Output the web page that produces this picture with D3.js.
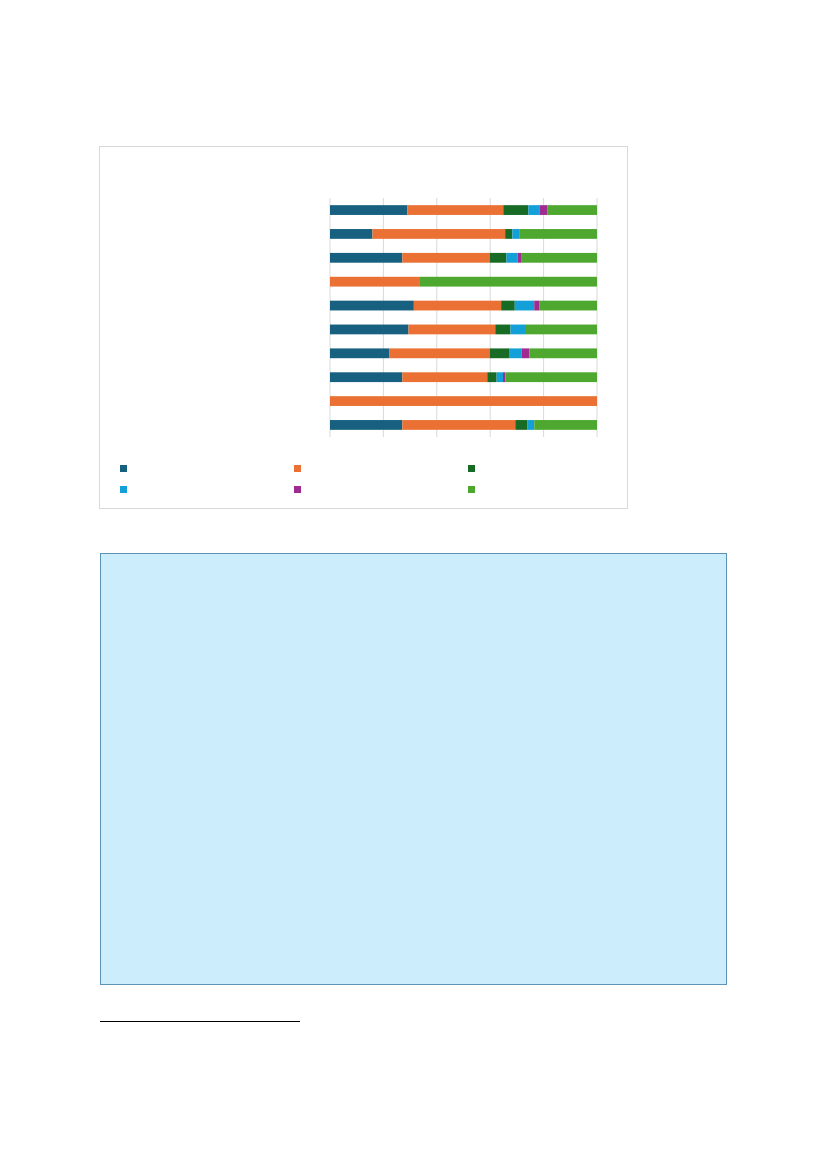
<!DOCTYPE html>
<html><head><meta charset="utf-8">
<script src="https://cdn.jsdelivr.net/npm/d3@7"></script>
<style>body{margin:0;background:#fff}svg{display:block}</style>
</head><body>
<svg id="c" width="827" height="1169"></svg>
<script>
// Data (percent shares per row; the reference shows no text labels)
const categories = ["r1","r2","r3","r4","r5","r6","r7","r8","r9","r10"];
const seriesNames = ["s1","s2","s3","s4","s5","s6"];
const seriesColors = ["#17607f","#ea7133","#186b25","#139fd7","#a02a8f","#4ea82f"];
const s1 = [29.0,15.9,27.1,0,31.4,29.4,22.3,27.1,0,27.1];
const s2 = [35.9,49.7,32.7,33.4,32.7,32.5,37.5,31.8,100,42.3];
const s3 = [9.4,2.7,6.3,0,5.1,5.7,7.5,3.5,0,4.6];
const s4 = [4.3,2.8,4.2,0,7.3,5.8,4.4,2.4,0,2.5];
const s5 = [2.9,0,1.5,0,2.0,0,3.0,0.9,0,0];
const s6 = [18.5,28.9,28.2,66.6,21.5,26.6,25.3,34.3,0,23.5];
const xTicks = [0,20,40,60,80,100];

const series = [s1,s2,s3,s4,s5,s6];
const rows = categories.map((c,i)=>{const o={cat:c}; seriesNames.forEach((s,j)=>o[s]=series[j][i]); return o;});
const stacked = d3.stack().keys(seriesNames)(rows);

const svg = d3.select("#c");
// chart frame
svg.append("rect").attr("x",99.5).attr("y",146.5).attr("width",528).attr("height",362)
  .attr("fill","#fff").attr("stroke","#d9d9d9").attr("stroke-width",1);

const x = d3.scaleLinear().domain([0,100]).range([330,597]);
const y = d3.scaleBand().domain(categories).range([198,437]).paddingInner(0.59).paddingOuter(0.3);

// gridlines
svg.append("g").selectAll("line").data(xTicks).join("line")
  .attr("x1",d=>x(d)).attr("x2",d=>x(d)).attr("y1",198).attr("y2",437)
  .attr("stroke","#d9d9d9").attr("stroke-width",1);

// bars
svg.append("g").selectAll("g").data(stacked).join("g")
  .attr("fill",(d,i)=>seriesColors[i])
  .selectAll("rect").data(d=>d).join("rect")
  .attr("x",d=>x(d[0])).attr("width",d=>Math.max(0,x(d[1])-x(d[0])))
  .attr("y",d=>y(d.data.cat)).attr("height",y.bandwidth());

// legend markers
const legPos = [[120,465],[294,465],[468,465],[120,486],[294,486],[468,486]];
svg.append("g").selectAll("rect").data(seriesNames).join("rect")
  .attr("x",(d,i)=>legPos[i][0]).attr("y",(d,i)=>legPos[i][1])
  .attr("width",7).attr("height",7).attr("fill",(d,i)=>seriesColors[i]);

// lower info box
svg.append("rect").attr("x",100.5).attr("y",553.5).attr("width",626).attr("height",431)
  .attr("fill","#cbedfc").attr("stroke","#5b94b4").attr("stroke-width",1);

// footnote rule
svg.append("line").attr("x1",100).attr("x2",300).attr("y1",1021.5).attr("y2",1021.5)
  .attr("stroke","#000").attr("stroke-width",1);
</script>
</body></html>
